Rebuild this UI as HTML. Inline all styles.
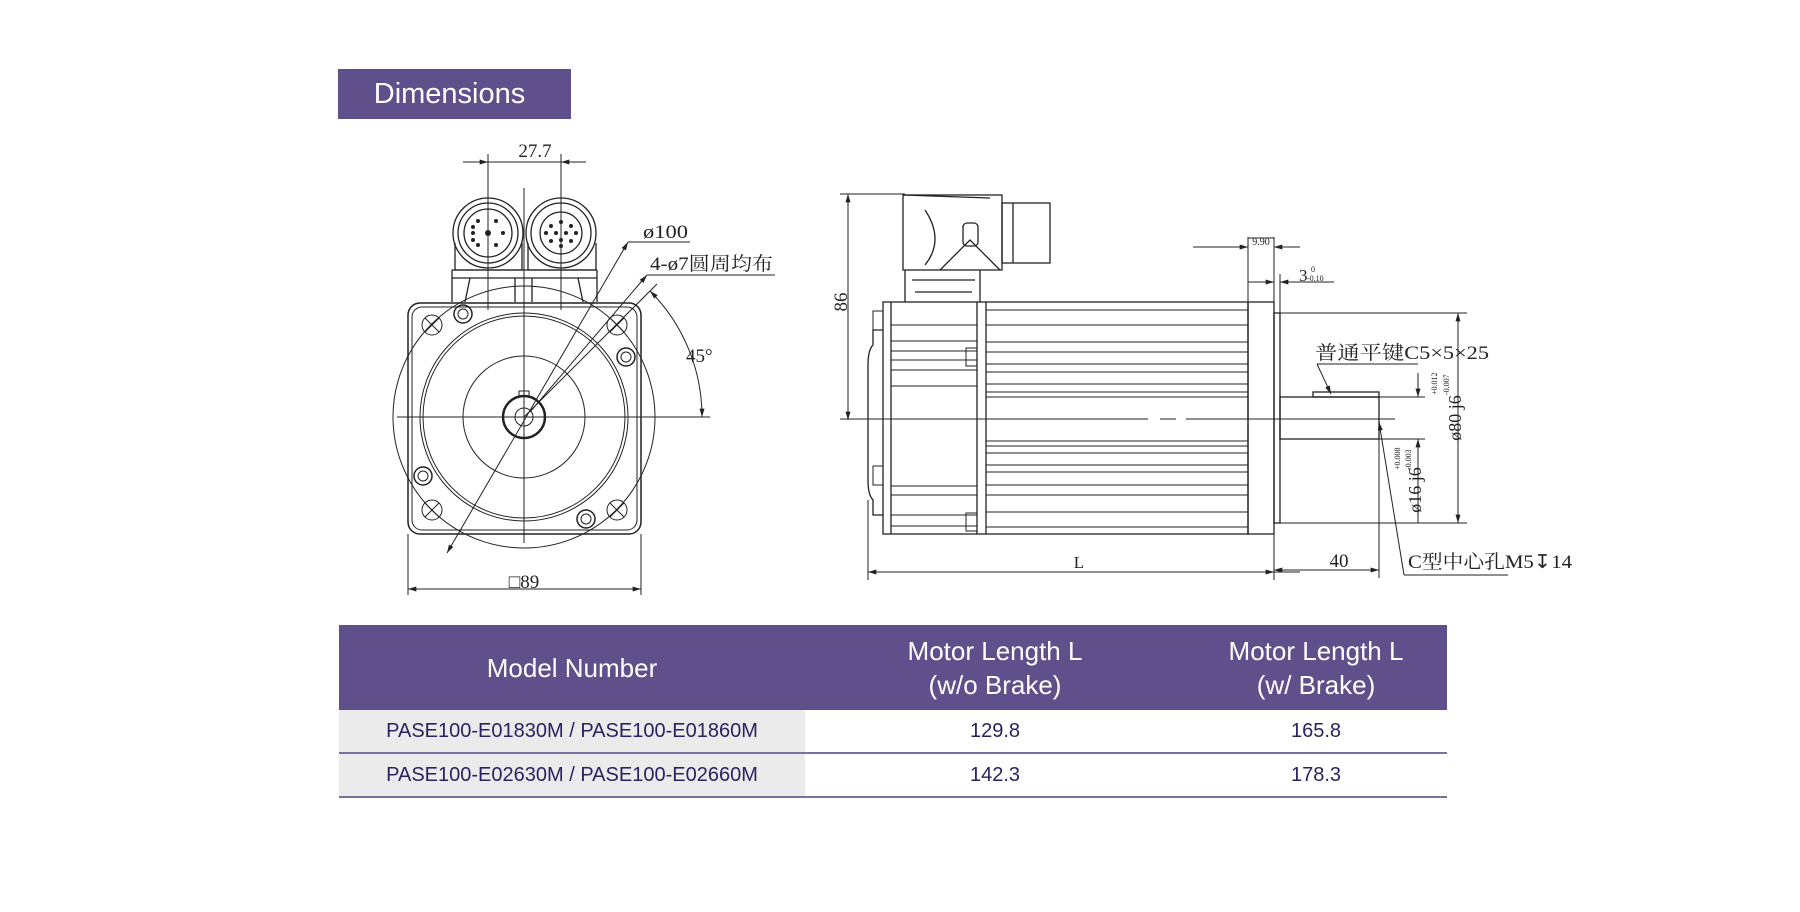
<!DOCTYPE html>
<html><head><meta charset="utf-8"><style>
html,body{margin:0;padding:0;background:#fff;}
body{width:1800px;height:912px;position:relative;overflow:hidden;font-family:"Liberation Sans",sans-serif;}
.title{position:absolute;left:338px;top:69px;width:223px;padding-right:10px;height:50px;background:#5f4f8a;color:#fff;font-size:29px;line-height:50px;text-align:center;}
table{position:absolute;left:339px;top:625px;width:1108px;border-collapse:collapse;}
th{background:#5f4f8a;color:#fff;font-weight:normal;font-size:26px;height:85px;line-height:34px;padding:0;}
td{font-size:20px;color:#2a2260;text-align:center;height:42px;padding:0;border-bottom:2px solid #7a70a0;}
td.g{background:#ebebeb;}
svg{position:absolute;left:0;top:0;}
</style></head><body>
<div class="title">Dimensions</div>
<svg width="1800" height="912" viewBox="0 0 1800 912" font-family="Liberation Serif, Noto Serif CJK SC, serif" fill="none" stroke="#222" stroke-width="1">
<defs><marker id="a" viewBox="0 0 10 6" refX="10" refY="3" markerWidth="14" markerHeight="5" orient="auto-start-reverse" markerUnits="userSpaceOnUse"><path d="M0 0L10 3L0 6z" fill="#222" stroke="none"/></marker></defs>
<line x1="463" y1="162" x2="586" y2="162"/>
<line x1="488" y1="162" x2="463" y2="162" marker-start="url(#a)"/>
<line x1="561" y1="162" x2="586" y2="162" marker-start="url(#a)"/>
<line x1="488" y1="154" x2="488" y2="310"/><line x1="561" y1="154" x2="561" y2="310"/>
<text x="535" y="157" font-size="19" fill="#222" stroke="none" text-anchor="middle">27.7</text>
<g stroke-width="1.3">
<circle cx="488" cy="233" r="35"/><circle cx="488" cy="233" r="30"/><circle cx="488" cy="233" r="24"/>
<circle cx="561" cy="233" r="35"/><circle cx="561" cy="233" r="30"/><circle cx="561" cy="233" r="21"/>
<path d="M455 243V270H522V243M528 243V270H596V243"/>
<path d="M452 270H597M452 278H597M452 270V302M597 270V302M470 278L465 302M578 278L583 302M515 278V302M532 278V302"/>
</g>
<g fill="#222" stroke="none">
<circle cx="488" cy="233" r="3"/><circle cx="478" cy="221" r="2"/><circle cx="496" cy="221" r="2"/><circle cx="473" cy="233" r="2"/><circle cx="503" cy="233" r="2"/><circle cx="478" cy="245" r="2"/><circle cx="496" cy="245" r="2"/><circle cx="473" cy="227" r="2"/><circle cx="473" cy="240" r="2"/>
<circle cx="561" cy="222" r="2"/><circle cx="551" cy="226" r="2"/><circle cx="571" cy="226" r="2"/><circle cx="546" cy="233" r="2"/><circle cx="556" cy="233" r="2"/><circle cx="566" cy="233" r="2"/><circle cx="576" cy="233" r="2"/><circle cx="551" cy="241" r="2"/><circle cx="561" cy="240" r="2"/><circle cx="571" cy="241" r="2"/><circle cx="561" cy="246" r="2"/>
</g>
<rect x="408" y="303" width="233" height="231" rx="12" stroke-width="1.5"/>
<rect x="412" y="307" width="225" height="223" rx="10"/>
<circle cx="524" cy="417" r="131"/>
<circle cx="524" cy="417" r="104"/><circle cx="524" cy="417" r="101"/>
<circle cx="524" cy="417" r="61"/>
<circle cx="524" cy="417" r="21" stroke-width="2.5"/><circle cx="524" cy="417" r="9"/>
<path d="M519 396V391H529V396"/>
<g>
<circle cx="432" cy="325" r="10"/><circle cx="617" cy="325" r="10"/><circle cx="432" cy="510" r="10"/><circle cx="617" cy="510" r="10"/>
<path d="M425 318l14 14M439 318l-14 14M610 318l14 14M624 318l-14 14M425 503l14 14M439 503l-14 14M610 503l14 14M624 503l-14 14"/>
<circle cx="463" cy="314" r="9" stroke-width="1.5"/><circle cx="463" cy="314" r="5"/>
<circle cx="626" cy="357" r="9" stroke-width="1.5"/><circle cx="626" cy="357" r="5"/>
<circle cx="423" cy="476" r="9" stroke-width="1.5"/><circle cx="423" cy="476" r="5"/>
<circle cx="586" cy="519" r="9" stroke-width="1.5"/><circle cx="586" cy="519" r="5"/>
</g>
<line x1="397" y1="417" x2="710" y2="417"/>
<line x1="524" y1="188" x2="524" y2="543"/>
<line x1="447" y1="553" x2="628" y2="242" marker-start="url(#a)" marker-end="url(#a)"/>
<line x1="628" y1="242" x2="690" y2="242"/>
<text x="643" y="238" font-size="19" fill="#222" stroke="none" textLength="45" lengthAdjust="spacingAndGlyphs">ø100</text>
<line x1="530" y1="412" x2="647" y2="275" marker-end="url(#a)"/>
<line x1="647" y1="275" x2="775" y2="275"/>
<text x="650" y="270" font-size="19" fill="#222" stroke="none" textLength="123" lengthAdjust="spacingAndGlyphs">4-ø7圆周均布</text>
<line x1="524" y1="417" x2="657" y2="284"/>
<path d="M650 291A178 178 0 0 1 702 417" marker-start="url(#a)" marker-end="url(#a)"/>
<text x="686" y="362" font-size="19" fill="#222" stroke="none">45°</text>
<line x1="408" y1="534" x2="408" y2="595"/><line x1="641" y1="534" x2="641" y2="595"/>
<line x1="408" y1="589" x2="641" y2="589" marker-start="url(#a)" marker-end="url(#a)"/>
<text x="524" y="588" font-size="19" fill="#222" stroke="none" text-anchor="middle">□89</text>
<line x1="840" y1="194" x2="905" y2="194"/>
<line x1="848" y1="194" x2="848" y2="420" marker-start="url(#a)" marker-end="url(#a)"/>
<text transform="translate(847,302) rotate(-90)" font-size="19" fill="#222" stroke="none" text-anchor="middle">86</text>
<line x1="840" y1="419" x2="1148" y2="419"/><line x1="1160" y1="419" x2="1176" y2="419"/><line x1="1186" y1="419" x2="1395" y2="419"/>
<g stroke-width="1.3">
<rect x="883" y="302" width="365" height="232"/>
<line x1="891" y1="302" x2="891" y2="534"/>
<line x1="977" y1="302" x2="977" y2="534"/><line x1="986" y1="302" x2="986" y2="534"/>
<path d="M883 330H873V345M873 345Q868 350 868 365V480Q868 495 873 500V515H883"/>
<rect x="1248" y="302" width="26" height="232"/>
<rect x="1274" y="313" width="6" height="210"/>
<rect x="903" y="195" width="99" height="75"/>
<path d="M903 195L990 198M925 210Q945 240 925 265M940 270L970 240L1000 270"/>
<rect x="963" y="223" width="15" height="23" rx="4"/>
<rect x="1002" y="203" width="48" height="60"/><line x1="1013" y1="203" x2="1013" y2="263"/>
<path d="M905 270V302M980 270V302M912 280H975M915 292H972"/>
</g>
<g stroke-width="1">
<path d="M986 310H1248M986 325H1248M986 342H1248M986 352H1248M986 364H1248M986 372H1248M986 384H1248M986 392H1248M986 397H1248M986 441H1248M986 446H1248M986 453H1248M986 465H1248M986 472H1248M986 485H1248M986 495H1248M986 512H1248M986 527H1248"/>
<path d="M891 325H977M891 341H977M891 351H977M891 360H977M891 370H977M891 386H977M891 486H977M891 495H977M891 515H977M891 526H977"/>
<rect x="966" y="348" width="11" height="18"/><rect x="966" y="513" width="11" height="18"/>
<rect x="873" y="311" width="10" height="19"/><rect x="873" y="466" width="10" height="19"/>
</g>
<line x1="1248" y1="237" x2="1248" y2="302"/><line x1="1274" y1="237" x2="1274" y2="580"/>
<line x1="1193" y1="247" x2="1248" y2="247" marker-end="url(#a)"/>
<line x1="1300" y1="247" x2="1274" y2="247" marker-end="url(#a)"/>
<line x1="1248" y1="238" x2="1274" y2="238"/>
<text x="1261" y="245" font-size="10" fill="#222" stroke="none" text-anchor="middle">9.90</text>
<line x1="1280" y1="274" x2="1280" y2="313"/>
<line x1="1248" y1="282" x2="1274" y2="282" marker-end="url(#a)"/>
<line x1="1300" y1="282" x2="1280" y2="282" marker-end="url(#a)"/>
<line x1="1280" y1="282" x2="1334" y2="282"/>
<text x="1299" y="281" font-size="17" fill="#222" stroke="none">3</text>
<text x="1311" y="272" font-size="8" fill="#222" stroke="none">0</text>
<text x="1307" y="281" font-size="8" fill="#222" stroke="none">-0.10</text>
<rect x="1280" y="397" width="99" height="42" stroke-width="1.3"/>
<rect x="1313" y="392" width="66" height="5" stroke-width="1.3"/>
<line x1="1280" y1="313" x2="1467" y2="313"/><line x1="1280" y1="523" x2="1467" y2="523"/>
<line x1="1458" y1="313" x2="1458" y2="523" marker-start="url(#a)" marker-end="url(#a)"/>
<line x1="1379" y1="397" x2="1425" y2="397"/><line x1="1379" y1="439" x2="1425" y2="439"/>
<line x1="1418" y1="373" x2="1418" y2="397" marker-end="url(#a)"/>
<line x1="1418" y1="523" x2="1418" y2="439" marker-end="url(#a)"/>
<text transform="translate(1461,418) rotate(-90)" font-size="18" fill="#222" stroke="none" text-anchor="middle">ø80 j6</text>
<text transform="translate(1437,395) rotate(-90)" font-size="8" fill="#222" stroke="none">+0.012</text>
<text transform="translate(1449,395) rotate(-90)" font-size="8" fill="#222" stroke="none">-0.007</text>
<text transform="translate(1421,490) rotate(-90)" font-size="18" fill="#222" stroke="none" text-anchor="middle">ø16 j6</text>
<text transform="translate(1400,470) rotate(-90)" font-size="8" fill="#222" stroke="none">+0.008</text>
<text transform="translate(1411,470) rotate(-90)" font-size="8" fill="#222" stroke="none">-0.003</text>
<text x="1315" y="359" font-size="19" fill="#222" stroke="none" textLength="174" lengthAdjust="spacingAndGlyphs">普通平键C5×5×25</text>
<line x1="1317" y1="364" x2="1418" y2="364"/>
<line x1="1317" y1="364" x2="1331" y2="394" marker-end="url(#a)"/>
<line x1="1379" y1="439" x2="1379" y2="578"/>
<line x1="1274" y1="570" x2="1379" y2="570" marker-start="url(#a)" marker-end="url(#a)"/>
<line x1="868" y1="500" x2="868" y2="580"/>
<line x1="868" y1="572" x2="1274" y2="572" marker-start="url(#a)" marker-end="url(#a)"/>
<line x1="1274" y1="572" x2="1300" y2="572"/>
<text x="1079" y="568" font-size="17" fill="#222" stroke="none" text-anchor="middle">L</text>
<text x="1339" y="567" font-size="19" fill="#222" stroke="none" text-anchor="middle">40</text>
<text x="1408" y="568" font-size="19" fill="#222" stroke="none" textLength="164" lengthAdjust="spacingAndGlyphs">C型中心孔M5↧14</text>
<line x1="1404" y1="575" x2="1508" y2="575"/>
<line x1="1404" y1="575" x2="1379" y2="422" marker-end="url(#a)"/>
</svg>
<table>
<tr><th style="width:466px">Model Number</th><th style="width:380px">Motor Length L<br>(w/o Brake)</th><th>Motor Length L<br>(w/ Brake)</th></tr>
<tr><td class="g">PASE100-E01830M / PASE100-E01860M</td><td>129.8</td><td>165.8</td></tr>
<tr><td class="g">PASE100-E02630M / PASE100-E02660M</td><td>142.3</td><td>178.3</td></tr>
</table>
</body></html>
